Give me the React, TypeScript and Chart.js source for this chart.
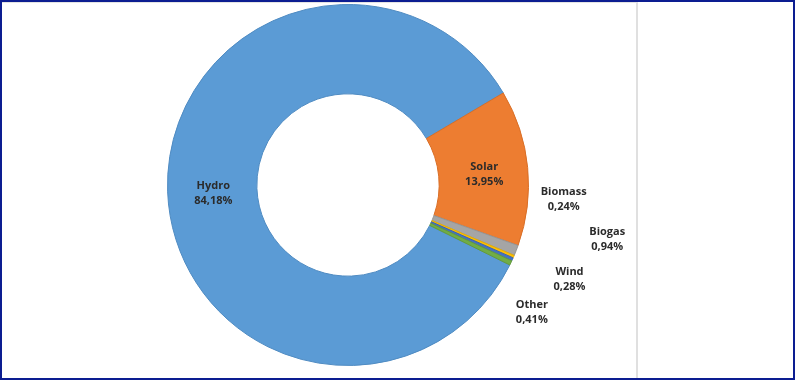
import React, { useEffect, useRef } from "react";
import { Chart, registerables } from "chart.js";

Chart.register(...registerables);

const categories = ["Hydro", "Solar", "Biogas", "Biomass", "Wind", "Other"];
const shares = [84.18, 13.95, 0.94, 0.24, 0.28, 0.41];
const sliceColors = ["#5B9BD5", "#ED7D31", "#A5A5A5", "#FFC000", "#4472C4", "#70AD47"];
const sliceBorders = ["#4f8bc2", "#d96e26", "#959595", "#e6ad00", "#3a64ad", "#62993d"];

// label placement: mode "mid" = ring centroid, "out" = outer edge of slice, plus pixel shift
const labelModes = ["mid", "mid", "out", "out", "out", "out"];
const labelShifts: [number, number][] = [
  [1, 3],
  [1, 2],
  [91, -11],
  [50, -57],
  [57, 20],
  [21, 49],
];

const fmt = (v: number) => v.toFixed(2).replace(".", ",") + "%";

const labelPlugin = {
  id: "sliceLabels",
  afterDatasetsDraw(chart: any) {
    const ctx = chart.ctx;
    const meta = chart.getDatasetMeta(0);
    ctx.save();
    ctx.font = "bold 11px 'Open Sans', sans-serif";
    ctx.fillStyle = "#2b2b2b";
    ctx.textAlign = "center";
    ctx.textBaseline = "middle";
    meta.data.forEach((arc: any, i: number) => {
      const p = arc.getProps(["x", "y", "startAngle", "endAngle", "innerRadius", "outerRadius"], true);
      const mid = (p.startAngle + p.endAngle) / 2;
      const r = labelModes[i] === "mid" ? (p.innerRadius + p.outerRadius) / 2 : p.outerRadius;
      const cx = p.x + Math.cos(mid) * r + labelShifts[i][0];
      const cy = p.y + Math.sin(mid) * r + labelShifts[i][1];
      ctx.fillText(categories[i], cx, cy - 7.5);
      ctx.fillText(fmt(shares[i]), cx, cy + 7.5);
    });
    ctx.restore();
  },
};

export default function App() {
  const ref = useRef<HTMLCanvasElement | null>(null);
  useEffect(() => {
    document.body.style.margin = "0";
    if (!ref.current) return;
    const chart = new Chart(ref.current, {
      type: "doughnut",
      data: {
        labels: categories,
        datasets: [
          {
            data: shares,
            backgroundColor: sliceColors,
            borderColor: sliceBorders,
            borderWidth: 1,
          },
        ],
      },
      options: {
        responsive: false,
        animation: false,
        rotation: 116.3,
        cutout: "50.5%",
        layout: { padding: { left: 167, right: 266, top: 4, bottom: 14 } },
        plugins: { legend: { display: false }, tooltip: { enabled: false } },
      },
      plugins: [labelPlugin],
    });
    return () => chart.destroy();
  }, []);
  return (
    <div style={{ position: "relative", width: 795, height: 380, background: "#fff", overflow: "hidden" }}>
      <canvas ref={ref} width={795} height={380} style={{ position: "absolute", left: 0, top: 0 }} />
      <div
        style={{
          position: "absolute",
          left: 0,
          top: 2,
          width: 636,
          height: 378,
          borderTop: "1px solid #e4e4e4",
          borderRight: "2px solid #e0e0e0",
          pointerEvents: "none",
        }}
      />
      <div
        style={{
          position: "absolute",
          left: 0,
          top: 0,
          width: 795,
          height: 380,
          boxSizing: "border-box",
          border: "2px solid #0c1d91",
          pointerEvents: "none",
        }}
      />
    </div>
  );
}
